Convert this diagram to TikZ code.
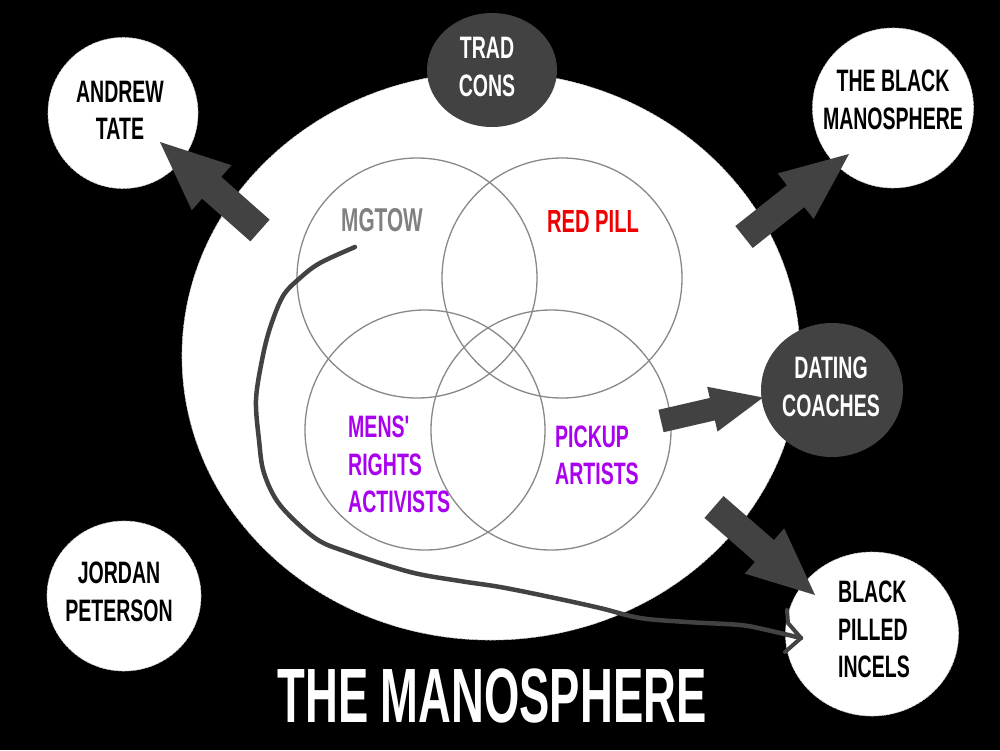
\documentclass[tikz,border=0pt]{standalone}
\usepackage{fontspec}
\newfontfamily\lab{Liberation Sans}[FakeStretch=0.63]
\newfontfamily\ttl{Liberation Sans}[FakeStretch=0.59]
\usetikzlibrary{calc,shapes.geometric}
\definecolor{dk}{RGB}{66,66,66}
\definecolor{vg}{RGB}{136,136,136}
\definecolor{rp}{RGB}{240,0,0}
\definecolor{pu}{RGB}{170,0,240}
\definecolor{mg}{RGB}{128,128,128}
% #1 tail, #2 tip, #3 half shaft width, #4 half head width, #5 head length
\newcommand\blockarrow[5]{%
  \path ($(#2)!#5!(#1)$) coordinate (hb);
  \fill[arrowfill] ($(#1)!#3!90:(#2)$) -- ($(hb)!#3!90:(#2)$) -- ($(hb)!#4!90:(#2)$)
    -- (#2) -- ($(hb)!#4!-90:(#2)$) -- ($(hb)!#3!-90:(#2)$) -- ($(#1)!#3!-90:(#2)$) -- cycle;}
\begin{document}
\begin{tikzpicture}[x=1pt,y=-1pt,
  lbl/.style={font=\lab\bfseries\fontsize{31}{37.5}\selectfont, inner sep=0, align=center},
  whitecirc/.style={ellipse, fill=white, draw=black!18, line width=0.6pt, dash pattern=on 3pt off 1pt, inner sep=0},
  darkcirc/.style={ellipse, fill=dk, inner sep=0},
  venn/.style={circle, draw=vg, line width=1.3pt, minimum size=240pt, inner sep=0},
  arrowfill/.style={fill=dk},
  hand/.style={draw=dk, line width=4.5pt, line cap=round, line join=round}]
\useasboundingbox (0,0) rectangle (1000,750);
\fill[black] (0,0) rectangle (1000,750);

% the manosphere
\node[whitecirc, minimum width=618pt, minimum height=568pt] (sphere) at (491,356) {};

% venn circles
\node[venn] (mgtowC) at (417,278) {};
\node[venn] (redC) at (562,278) {};
\node[venn] (mraC) at (425,430) {};
\node[venn] (puaC) at (551,430) {};

\node[lbl, text=mg, font=\lab\bfseries\fontsize{33}{37.5}\selectfont] (mgtow) at (382,220) {MGTOW};
\node[lbl, text=rp, font=\lab\bfseries\fontsize{32}{37.5}\selectfont] (red) at (593,221) {RED PILL};
\node[lbl, text=pu, align=left, anchor=west] (mra) at (348,464.5) {MENS'\\RIGHTS\\ACTIVISTS};
\node[lbl, text=pu, align=left, anchor=west] (pua) at (555,455.5) {PICKUP\\ARTISTS};

% outer circles
\node[whitecirc, minimum width=150pt, minimum height=151pt] (tate) at (123,113) {};
\node[lbl] (tateT) at (120,110.5) {ANDREW\\TATE};
\node[darkcirc, minimum width=130pt, minimum height=114pt] (trad) at (492,70) {};
\node[lbl, text=white] (tradT) at (487,67) {TRAD\\CONS};
\node[whitecirc, minimum width=161pt, minimum height=160pt] (bman) at (893,108) {};
\node[lbl] (bmanT) at (893,100) {THE BLACK\\MANOSPHERE};
\node[darkcirc, minimum width=142pt, minimum height=134pt] (dating) at (832,390) {};
\node[lbl, text=white] (datingT) at (831,387) {DATING\\COACHES};
\node[whitecirc, minimum width=173pt, minimum height=164pt] (incels) at (872,634) {};
\node[lbl, align=left, anchor=west] (incelsT) at (838,629.5) {BLACK\\PILLED\\INCELS};
\node[whitecirc, minimum width=154pt, minimum height=150pt] (jordan) at (124,596) {};
\node[lbl] (jordanT) at (119,592) {JORDAN\\PETERSON};

% block arrows
\coordinate (a1s) at (260,230.5); \coordinate (a1e) at (160,142);
\coordinate (a2s) at (744,237);   \coordinate (a2e) at (849,154);
\coordinate (a3s) at (661,421);   \coordinate (a3e) at (763,397.5);
\coordinate (a4s) at (714,507);   \coordinate (a4e) at (815,595);
\blockarrow{a1s}{a1e}{14.5pt}{30pt}{69pt}
\blockarrow{a2s}{a2e}{14pt}{29pt}{68pt}
\blockarrow{a3s}{a3e}{11.5pt}{23pt}{52pt}
\blockarrow{a4s}{a4e}{14.5pt}{30pt}{67pt}

% hand-drawn line
\coordinate (hstart) at (355,247);
\coordinate (hend) at (801,638);
\draw[hand] plot[smooth, tension=0.55] coordinates {(hstart) (320,263) (300,278) (283,296) (270,328) (262,360) (256,400) (259,440) (264,473) (280,505) (315,538) (347,552) (410,572) (460,581) (500,587) (550,597) (600,608) (640,618) (687,622) (740,625) (767,630) (hend)};
\coordinate (chevA) at (787,610);
\coordinate (chevB) at (785,652);
\draw[hand, line width=4pt] (chevA) -- (788,623) -- (hend) -- (chevB);

% title
\node[font=\ttl\bfseries\fontsize{77}{80}\selectfont, text=white, inner sep=0] (title) at (492,695.5) {THE MANOSPHERE};
\end{tikzpicture}
\end{document}
